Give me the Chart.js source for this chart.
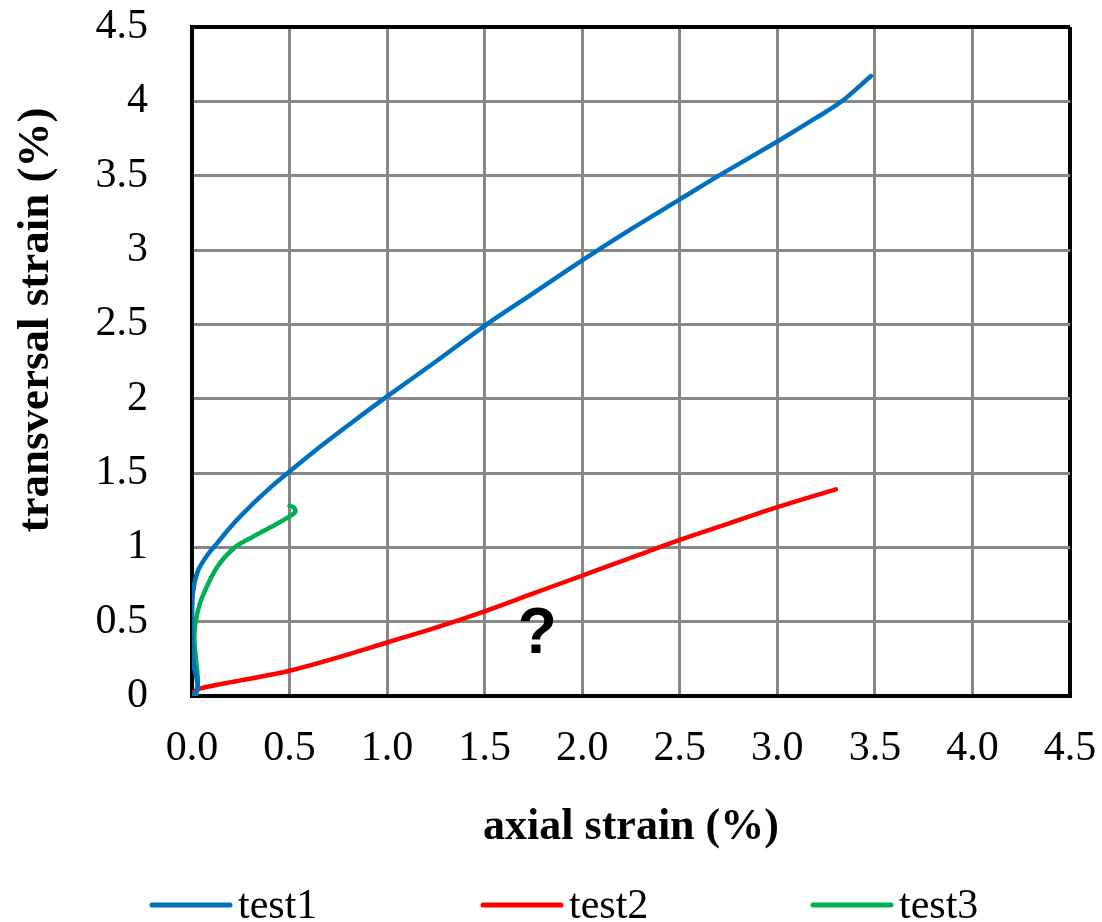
<!DOCTYPE html>
<html>
<head>
<meta charset="utf-8">
<script src="https://cdn.jsdelivr.net/npm/chart.js@4.4.1/dist/chart.umd.min.js"></script>
<style>
  html, body { margin: 0; padding: 0; background: #ffffff; }
  #wrap { width: 1102px; height: 922px; }
</style>
</head>
<body>
<div id="wrap"><canvas id="c" width="1102" height="922"></canvas></div>
<script>
// ---- data ----
const seriesNames = ['test1', 'test2', 'test3'];
const seriesColors = ['#0070C0', '#FF0000', '#00B050'];

const test1X = [0, 0.03, 0.01, 0.0, 0.004, 0.03, 0.08, 0.13, 0.22, 0.31, 0.4, 0.5, 0.65, 0.82, 1.0, 1.25, 1.5, 1.75, 2.0, 2.25, 2.5, 2.7, 3.0, 3.2, 3.33, 3.48];
const test1Y = [0, 0.05, 0.2, 0.45, 0.69, 0.84, 0.95, 1.03, 1.17, 1.29, 1.40, 1.51, 1.67, 1.84, 2.015, 2.25, 2.49, 2.71, 2.93, 3.14, 3.34, 3.5, 3.73, 3.89, 4.0, 4.17];

const test2X = [0, 0.04, 0.25, 0.5, 0.75, 1.0, 1.25, 1.5, 1.75, 2.0, 2.25, 2.5, 2.75, 3.0, 3.3];
const test2Y = [0.02, 0.05, 0.105, 0.17, 0.26, 0.36, 0.46, 0.57, 0.69, 0.81, 0.93, 1.05, 1.16, 1.27, 1.39];

const test3X = [0.02, 0.03, 0.02, 0.012, 0.02, 0.04, 0.067, 0.13, 0.22, 0.31, 0.41, 0.49, 0.53, 0.52, 0.50];
const test3Y = [0, 0.1, 0.25, 0.4, 0.51, 0.62, 0.71, 0.87, 1.0, 1.07, 1.14, 1.20, 1.24, 1.27, 1.28];

const xTicks = [0, 0.5, 1.0, 1.5, 2.0, 2.5, 3.0, 3.5, 4.0, 4.5];
const yTicks = [0, 0.5, 1, 1.5, 2, 2.5, 3, 3.5, 4, 4.5];

const xTitle = 'axial strain (%)';
const yTitle = 'transversal strain (%)';
const noteText = '?';
const notePos = [1.77, 0.41];

// ---- build datasets ----
function pts(xs, ys) { return xs.map((x, i) => ({ x: x, y: ys[i] })); }
const allX = [test1X, test2X, test3X];
const allY = [test1Y, test2Y, test3Y];
const datasets = seriesNames.map((name, i) => ({
  label: name,
  data: pts(allX[i], allY[i]),
  borderColor: seriesColors[i],
  backgroundColor: seriesColors[i],
  borderWidth: 4.5,
  showLine: true,
  pointRadius: 0,
  tension: 0.35,
  fill: false,
  borderCapStyle: 'round',
  borderJoinStyle: 'round'
}));

const SERIF = "'Liberation Serif', 'Times New Roman', serif";

const extrasPlugin = {
  id: 'extras',
  afterDraw(chart) {
    const ctx = chart.ctx;
    const xs = chart.scales.x, ys = chart.scales.y;
    ctx.save();
    // y axis title
    ctx.font = "bold 45px " + SERIF;
    ctx.fillStyle = '#000';
    ctx.textAlign = 'center';
    ctx.textBaseline = 'middle';
    ctx.translate(36, 320);
    ctx.rotate(-Math.PI / 2);
    ctx.fillText(yTitle, 0, 0);
    ctx.restore();

    // annotation
    ctx.save();
    ctx.font = "bold 64px 'Liberation Sans', Arial, sans-serif";
    ctx.fillStyle = '#000';
    ctx.textAlign = 'center';
    ctx.textBaseline = 'middle';
    ctx.fillText(noteText, xs.getPixelForValue(notePos[0]), ys.getPixelForValue(notePos[1]));
    ctx.restore();

    // legend
    ctx.save();
    const starts = [152, 483, 813];
    const ly = 905;
    ctx.font = "42px " + SERIF;
    ctx.textAlign = 'left';
    ctx.textBaseline = 'middle';
    chart.data.datasets.forEach((ds, i) => {
      ctx.strokeStyle = ds.borderColor;
      ctx.lineWidth = 5;
      ctx.lineCap = 'round';
      ctx.beginPath();
      ctx.moveTo(starts[i], ly);
      ctx.lineTo(starts[i] + 78, ly);
      ctx.stroke();
      ctx.fillStyle = '#000';
      ctx.fillText(ds.label, starts[i] + 86, ly + 2);
    });
    ctx.restore();
  }
};

new Chart(document.getElementById('c'), {
  type: 'scatter',
  data: { datasets: datasets },
  options: {
    responsive: false,
    animation: false,
    devicePixelRatio: 1,
    layout: { padding: { left: 0, top: 27, right: 32, bottom: 0 } },
    plugins: {
      legend: { display: false },
      tooltip: { enabled: false }
    },
    scales: {
      x: {
        type: 'linear',
        min: 0, max: 4.5,
        afterBuildTicks(scale) { scale.ticks = xTicks.map(v => ({ value: v })); },
        afterFit(scale) { scale.height = 226; scale.paddingLeft = 0; scale.paddingRight = 0; },
        ticks: {
          color: '#000',
          font: { family: SERIF, size: 42 },
          padding: 28,
          maxRotation: 0,
          callback: v => Number(v).toFixed(1)
        },
        grid: {
          drawTicks: false,
          color: ctx => (ctx.tick && ctx.tick.value === 4.5) ? '#000' : '#878787',
          lineWidth: ctx => (ctx.tick && ctx.tick.value === 4.5) ? 4 : 3
        },
        border: { display: true, color: '#000', width: 4 },
        title: {
          display: true,
          text: xTitle,
          color: '#000',
          font: { family: SERIF, size: 44, weight: 'bold' },
          padding: { top: 0, bottom: 68 }
        }
      },
      y: {
        type: 'linear',
        min: 0, max: 4.5,
        afterBuildTicks(scale) { scale.ticks = yTicks.map(v => ({ value: v })); },
        afterFit(scale) { scale.width = 192; scale.paddingTop = 0; scale.paddingBottom = 0; },
        ticks: {
          color: '#000',
          font: { family: SERIF, size: 42 },
          padding: 44,
          callback: v => String(v)
        },
        grid: {
          drawTicks: false,
          color: ctx => (ctx.tick && (ctx.tick.value === 4.5 || ctx.tick.value === 0)) ? '#000' : '#878787',
          lineWidth: ctx => (ctx.tick && (ctx.tick.value === 4.5 || ctx.tick.value === 0)) ? 4 : 3
        },
        border: { display: true, color: '#000', width: 4 },
        title: { display: false }
      }
    }
  },
  plugins: [extrasPlugin]
});
</script>
</body>
</html>
